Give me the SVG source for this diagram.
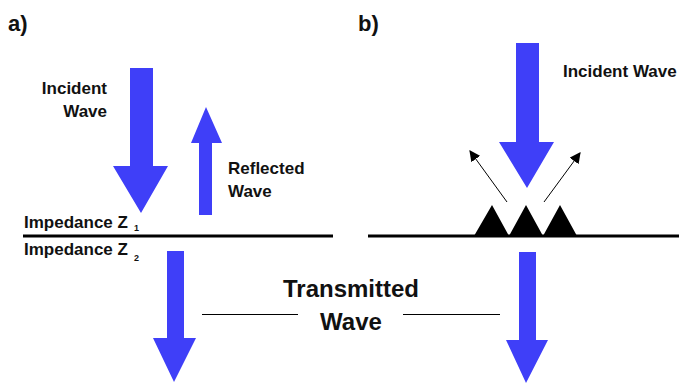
<svg xmlns="http://www.w3.org/2000/svg" width="679" height="383" viewBox="0 0 679 383">
<style>
.t{font-family:"Liberation Sans",Arial,sans-serif;font-weight:bold;fill:#111;}
.m{font-size:17px;}
.s{font-size:9px;}
.big{font-size:24px;}
.lbl{font-size:22px;}
.blue{fill:#3f3ff8;}
.ln{stroke:#000;stroke-width:3;}
.thin{stroke:#000;stroke-width:1;}
</style>
<defs>
<marker id="ah" viewBox="0 0 10 10" refX="9" refY="5" markerWidth="11" markerHeight="11" markerUnits="userSpaceOnUse" orient="auto">
<path d="M0,0 L10,5 L0,10 Z" fill="#000"/>
</marker>
</defs>
<rect width="679" height="383" fill="#fff"/>

<g id="label-a"><text class="t lbl" x="8" y="31">a)</text></g>
<g id="label-b"><text class="t lbl" x="358" y="31">b)</text></g>

<g id="interfaces">
<line class="ln" x1="23" y1="236" x2="333" y2="236"/>
<line class="ln" x1="368" y1="236" x2="679" y2="236"/>
</g>

<g id="incident-a">
<path class="blue" d="M130,68 H153 V166 H168 L141,213 L113,166 H130 Z"/>
<text class="t m" x="107" y="94" text-anchor="end">Incident</text>
<text class="t m" x="107" y="117" text-anchor="end">Wave</text>
</g>

<g id="reflected-a">
<path class="blue" d="M206,107 L222,143 H212 V215 H199 V143 H191 Z"/>
<text class="t m" x="228" y="174">Reflected</text>
<text class="t m" x="228" y="197">Wave</text>
</g>

<g id="impedance-labels">
<text class="t m" x="24" y="228">Impedance Z</text>
<text class="t s" x="134" y="231">1</text>
<text class="t m" x="24" y="255">Impedance Z</text>
<text class="t s" x="134" y="261">2</text>
</g>

<g id="transmitted-a">
<path class="blue" d="M167,251 H184 V338 H196 L174,382 L153,338 H167 Z"/>
</g>

<g id="incident-b">
<path class="blue" d="M516,43 H539 V142 H554 L527,188 L499,142 H516 Z"/>
<text class="t m" x="563" y="77">Incident Wave</text>
</g>

<g id="rough-surface">
<path d="M474,236 L492,205 L509,236 L526,205 L543,236 L560,205 L577,236 Z" fill="#000"/>
</g>

<g id="transmitted-b">
<path class="blue" d="M519,252 H536 V340 H548 L526,383 L506,340 H519 Z"/>
</g>

<g id="transmitted-label">
<text class="t big" x="351" y="297" text-anchor="middle">Transmitted</text>
<text class="t big" x="351" y="330" text-anchor="middle">Wave</text>
</g>

<g id="connectors">
<line class="thin" x1="507" y1="202" x2="470" y2="151" marker-end="url(#ah)"/>
<line class="thin" x1="544" y1="202" x2="580" y2="153" marker-end="url(#ah)"/>
<line class="thin" x1="202" y1="314.5" x2="298" y2="314.5"/>
<line class="thin" x1="403" y1="314.5" x2="500" y2="314.5"/>
</g>
</svg>
